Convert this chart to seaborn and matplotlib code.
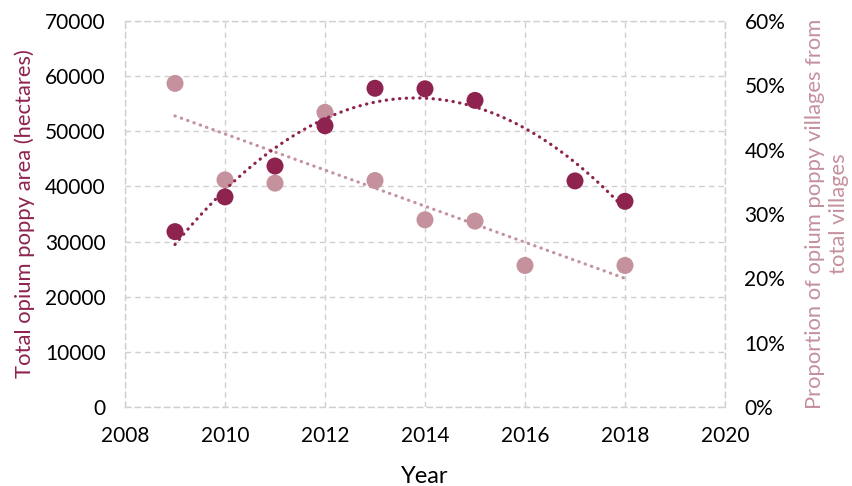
import matplotlib
matplotlib.use("Agg")
import matplotlib.pyplot as plt
import seaborn as sns
import numpy as np
import pandas as pd
from matplotlib.ticker import PercentFormatter, MultipleLocator

# ---- data ----
area_years = [2009, 2010, 2011, 2012, 2013, 2014, 2015, 2017, 2018]
area_hectares = [31800, 38100, 43700, 51000, 57800, 57700, 55600, 41000, 37300]

prop_years = [2009, 2010, 2011, 2012, 2013, 2014, 2015, 2016, 2018]
prop_villages = [0.503, 0.353, 0.348, 0.458, 0.352, 0.291, 0.289, 0.220, 0.220]

x_ticks = [2008, 2010, 2012, 2014, 2016, 2018, 2020]

DARK = "#8E2350"
LIGHT = "#C4919D"
GRID = "#D0D0D0"

sns.set_theme(style="white")
plt.rcParams["font.family"] = ["Lato", "DejaVu Sans"]

df_area = pd.DataFrame({"Year": area_years, "Area": area_hectares})
df_prop = pd.DataFrame({"Year": prop_years, "Prop": prop_villages})

fig = plt.figure(figsize=(8.52, 4.86), dpi=100)
# base axes: left scale, grid, x axis
ax = fig.add_axes([125 / 852, 1 - 407 / 486, 600 / 852, 386 / 486])
# middle layer: right scale, light series
ax2 = ax.twinx()
# top layer: left scale, dark series
ax3 = ax.twinx()

ax.set_zorder(1)
ax2.set_zorder(2)
ax3.set_zorder(3)
for a in (ax2, ax3):
    a.patch.set_visible(False)

dot_style = dict(linestyle=(0, (0.1, 2.0)), linewidth=2.3, dash_capstyle="round")

sns.regplot(data=df_prop, x="Year", y="Prop", ax=ax2, order=1, ci=None,
            scatter=False, color=LIGHT, line_kws=dot_style)
sns.scatterplot(data=df_prop, x="Year", y="Prop", ax=ax2, color=LIGHT,
                s=150, edgecolor="none", zorder=3)

sns.regplot(data=df_area, x="Year", y="Area", ax=ax3, order=2, ci=None,
            scatter=False, color=DARK, line_kws=dot_style)
sns.scatterplot(data=df_area, x="Year", y="Area", ax=ax3, color=DARK,
                s=150, edgecolor="none", zorder=3)

for a in (ax, ax2, ax3):
    a.set_xlim(2008, 2020)
    a.set_xticks(x_ticks)
    for s in a.spines.values():
        s.set_visible(False)
    a.tick_params(length=0, labelsize=15, colors="#000000")
    a.set_xlabel("")

ax.set_ylim(0, 70000)
ax3.set_ylim(0, 70000)
ax.yaxis.set_major_locator(MultipleLocator(10000))
ax3.yaxis.set_major_locator(MultipleLocator(10000))
ax3.tick_params(labelright=False, labelleft=False, labelbottom=False)
ax3.set_ylabel("")

ax2.set_ylim(0, 0.6)
ax2.yaxis.set_major_locator(MultipleLocator(0.1))
ax2.yaxis.set_major_formatter(PercentFormatter(1.0, decimals=0))
ax2.tick_params(labelbottom=False)

ax.grid(True, color=GRID, linestyle=(0, (4, 3)), linewidth=1)
for s in ax.spines.values():
    s.set_visible(True)
    s.set_color(GRID)
    s.set_linestyle((0, (4, 3)))
    s.set_linewidth(1)

ax.tick_params(axis="y", pad=14)
ax2.tick_params(axis="y", pad=14)
ax.tick_params(axis="x", pad=14)

ax.set_xlabel("Year", fontsize=17, labelpad=14, color="#000000")
ax.set_ylabel("Total opium poppy area (hectares)", fontsize=15.8, color=DARK, labelpad=7)
ax2.set_ylabel("Proportion of opium poppy villages from\ntotal villages", fontsize=15.8,
               color=LIGHT, labelpad=14, linespacing=1.25)

fig.savefig("out.png", dpi=100)
